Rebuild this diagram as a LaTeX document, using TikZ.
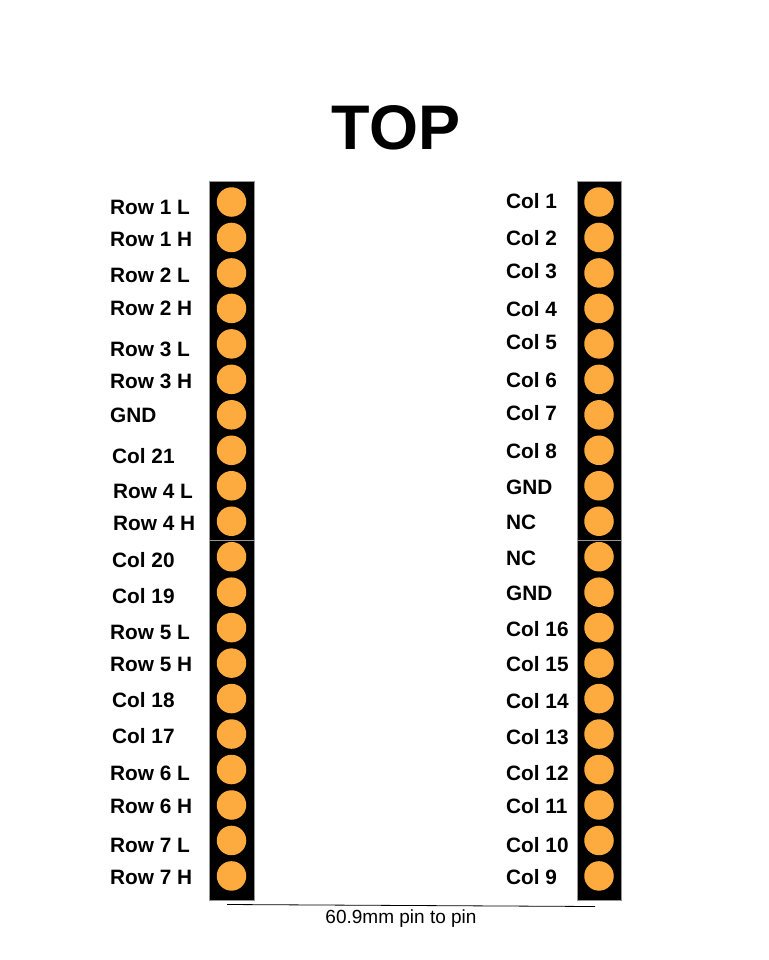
\documentclass[tikz,border=0pt]{standalone}
\usepackage{fontspec}
\setmainfont{Liberation Sans}
\usetikzlibrary{positioning}
\definecolor{pinColor}{RGB}{253,171,62}
\definecolor{seamColor}{RGB}{150,150,150}

\begin{document}
\begin{tikzpicture}[x=1pt,y=-1pt]

          \tikzstyle{pinLabel} = [anchor=west,inner sep=0pt,font=\bfseries\fontsize{20.8}{24}\selectfont];
          \tikzstyle{pinDot} = [circle,fill=pinColor,minimum size=29.5pt,inner sep=0pt];
          \tikzstyle{header} = [fill=black,draw=seamColor,line width=0.6pt];

          \useasboundingbox (0,0) rectangle (768,960);

          \node[font=\bfseries\fontsize{63}{68}\selectfont] (top) at (396,128) {TOP};

          % header strips
          \draw[header] (209,181) rectangle (254,540);
          \draw[header] (209,540) rectangle (254,900);
          \draw[header] (577,181) rectangle (621,540);
          \draw[header] (577,540) rectangle (621,900);

          \foreach \i in {0,...,19} {
            \node[pinDot] (pinL\i) at (231.5,202+35.47*\i) {};
            \node[pinDot] (pinR\i) at (599,202+35.47*\i) {};
          }

          % left side
          \node[pinLabel] (row1l) at (110,207) {Row 1 L};
          \node[pinLabel] (row1h) at (110,239) {Row 1 H};
          \node[pinLabel] (row2l) at (110,275) {Row 2 L};
          \node[pinLabel] (row2h) at (110,308) {Row 2 H};
          \node[pinLabel] (row3l) at (110,349) {Row 3 L};
          \node[pinLabel] (row3h) at (110,381) {Row 3 H};
          \node[pinLabel] (gndL) at (110,415) {GND};
          \node[pinLabel] (col21) at (112,456) {Col 21};
          \node[pinLabel] (row4l) at (113,491) {Row 4 L};
          \node[pinLabel] (row4h) at (113,523) {Row 4 H};
          \node[pinLabel] (col20) at (112,560) {Col 20};
          \node[pinLabel] (col19) at (112,596) {Col 19};
          \node[pinLabel] (row5l) at (110,632) {Row 5 L};
          \node[pinLabel] (row5h) at (110,664) {Row 5 H};
          \node[pinLabel] (col18) at (112,700) {Col 18};
          \node[pinLabel] (col17) at (112,736) {Col 17};
          \node[pinLabel] (row6l) at (110,773) {Row 6 L};
          \node[pinLabel] (row6h) at (110,806) {Row 6 H};
          \node[pinLabel] (row7l) at (110,845) {Row 7 L};
          \node[pinLabel] (row7h) at (110,877) {Row 7 H};

          % right side
          \node[pinLabel] (col1) at (506,201) {Col 1};
          \node[pinLabel] (col2) at (506,238) {Col 2};
          \node[pinLabel] (col3) at (506,271) {Col 3};
          \node[pinLabel] (col4) at (506,309) {Col 4};
          \node[pinLabel] (col5) at (506,342) {Col 5};
          \node[pinLabel] (col6) at (506,380) {Col 6};
          \node[pinLabel] (col7) at (506,413) {Col 7};
          \node[pinLabel] (col8) at (506,451) {Col 8};
          \node[pinLabel] (gndR1) at (506,487) {GND};
          \node[pinLabel] (nc1) at (506,522) {NC};
          \node[pinLabel] (nc2) at (506,558) {NC};
          \node[pinLabel] (gndR2) at (506,593) {GND};
          \node[pinLabel] (col16) at (506,629) {Col 16};
          \node[pinLabel] (col15) at (506,664) {Col 15};
          \node[pinLabel] (col14) at (506,701) {Col 14};
          \node[pinLabel] (col13) at (506,737) {Col 13};
          \node[pinLabel] (col12) at (506,773) {Col 12};
          \node[pinLabel] (col11) at (506,806) {Col 11};
          \node[pinLabel] (col10) at (506,845) {Col 10};
          \node[pinLabel] (col9) at (506,877) {Col 9};

          % pin to pin distance
          \coordinate (dimL) at (227,904.5);
          \coordinate (dimR) at (595,906.5);
          \draw[line width=0.8pt] (dimL) -- (dimR);
          \node[font=\fontsize{19}{22}\selectfont] (dim) at (401,919) {60.9mm pin to pin};
        \end{tikzpicture}
\end{document}
